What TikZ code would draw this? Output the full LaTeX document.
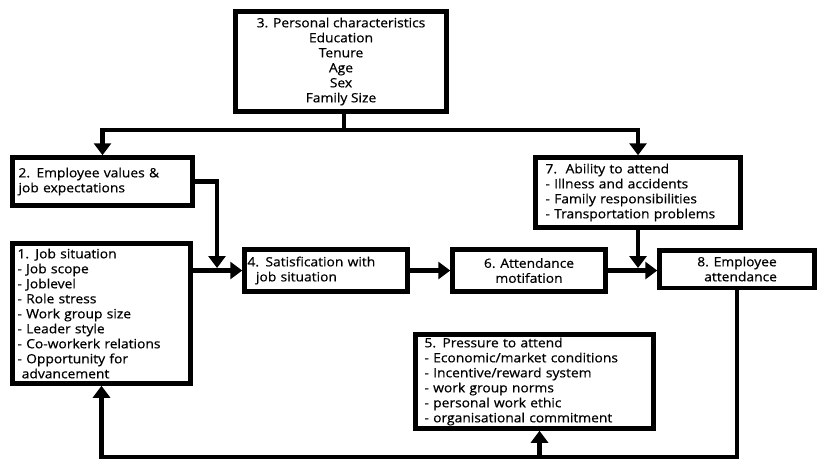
\documentclass[tikz,border=0pt]{standalone}
\usepackage{fontspec}
\setmainfont[FakeStretch=1.08,FakeBold=0.6]{Open Sans}
\usetikzlibrary{arrows.meta}
\tikzstyle{box}  = [draw,line width=4.5pt,inner sep=3pt,anchor=center,
                    font=\fontsize{12.8}{15}\selectfont]
\tikzstyle{link} = [line width=4.5pt,-{Triangle[length=12pt,width=17pt]}]

\begin{document}
\begin{tikzpicture}[x=1pt,y=-1pt]
\useasboundingbox (0,0) rectangle (818,459);

    \node(b3)[box, minimum width=211, minimum height=100, align=center] at (341,61.5)
        {3. Personal characteristics\\Education\\Tenure\\Age\\Sex\\Family Size};
    \node(b2)[box, minimum width=180, minimum height=48, text width=168, align=left] at (102.5,181.5)
        {2. Employee values \&\\job expectations};
    \node(b1)[box, minimum width=178, minimum height=140, text width=168, align=left] at (101.5,313.5)
        {1. Job situation\\- Job scope\\- Joblevel\\- Role stress\\- Work group size\\- Leader style\\- Co-workerk relations\\- Opportunity for\\\ advancement};
    \node(b4)[box, minimum width=163, minimum height=42, text width=157, align=left] at (326,270.5)
        {4. Satisfication with\\\ \ job situation};
    \node(b6)[box, minimum width=153, minimum height=42, align=center] at (529,270.5)
        {6. Attendance\\motifation};
    \node(b8)[box, minimum width=155, minimum height=37.5, align=center] at (737,269)
        {8. Employee\\\ \ attendance};
    \node(b7)[box, minimum width=205, minimum height=70, text width=185, align=left] at (638,192.5)
        {7.\ \ Ability to attend\\- Illness and accidents\\- Family responsibilities\\- Transportation problems};
    \node(b5)[box, minimum width=238, minimum height=94, text width=220, align=left] at (534.5,381.5)
        {5. Pressure to attend\\- Economic/market conditions\\- Incentive/reward system\\- work group norms\\- personal work ethic\\- organisational commitment};

    \coordinate(split) at (0,130);
    \coordinate(base)  at (0,457);
    \coordinate(m1)    at (217,268);

    % personal characteristics feed both sides
    \draw[link]([xshift=3pt]b3.south) -- ([xshift=3pt]b3.south |- split) -| (b2.north);
    \draw[link]([xshift=3pt]b3.south |- split) -| (b7.north);

    % main chain
    \draw[link](b2.east) -| (m1);
    \draw[link](b1.east |- b4.west) -- (b4.west);
    \draw[link](b4.east) -- (b6.west);
    \draw[link](b6.east) -- (b6.east -| b8.west);
    \draw[link](b7.south) -- (b7.south |- m1);

    % feedback
    \draw[link](b8.south) -- (b8.south |- base) -| (b1.south);
    \draw[link]([xshift=5pt]b5.south |- base) -- ([xshift=5pt]b5.south);

\end{tikzpicture}
\end{document}
